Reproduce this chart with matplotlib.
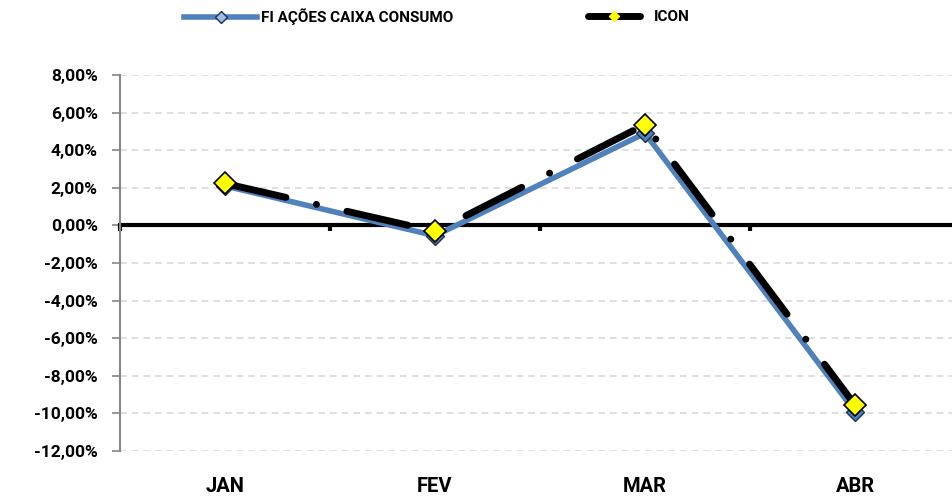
import matplotlib.pyplot as plt
from matplotlib.lines import Line2D
from matplotlib.ticker import FuncFormatter, MultipleLocator

meses = ['JAN', 'FEV', 'MAR', 'ABR']
fi_caixa = [2.10, -0.55, 4.90, -9.90]
icon = [2.23, -0.32, 5.36, -9.55]
nomes = ['FI AÇÕES CAIXA CONSUMO', 'ICON']

plt.rcParams['font.family'] = ['Roboto', 'DejaVu Sans']
plt.rcParams['font.weight'] = 'bold'

AZUL = '#4F81BD'
estilo_icon = dict(color='black', linewidth=5, dashes=(9, 4.5, 0.01, 4.5), dash_capstyle='round')

fig = plt.figure(figsize=(9.52, 4.97), dpi=100)
ax = fig.add_axes([120 / 952, 1 - 451 / 497, 840 / 952, 376 / 497])

x = list(range(len(meses)))

# grade tracejada
ax.yaxis.set_major_locator(MultipleLocator(2))
ax.grid(axis='y', color='#d9d9d9', linestyle=(0, (4, 3)), linewidth=1.2)
ax.set_axisbelow(True)

ax.plot(x, fi_caixa, color=AZUL, linewidth=4, zorder=3,
        marker='D', markersize=9, markerfacecolor=AZUL, markeredgecolor='#1F3050',
        markeredgewidth=1)
ax.plot(x, icon, zorder=4, **estilo_icon)
ax.plot(x, icon, linestyle='none', marker='D', markersize=11,
        markerfacecolor='#FFFF00', markeredgecolor='black', markeredgewidth=1.2, zorder=5)

ax.set_xlim(-0.5, len(meses) - 0.5)
ax.set_ylim(-12, 8)

# eixo x na linha do zero
for lado in ['top', 'right']:
    ax.spines[lado].set_visible(False)
ax.spines['bottom'].set_position(('data', 0))
ax.spines['bottom'].set_linewidth(3)
ax.spines['bottom'].set_color('black')
ax.spines['bottom'].set_zorder(2)
ax.set_xticks([i - 0.5 for i in x])
ax.set_xticklabels([])
ax.tick_params(axis='x', direction='out', length=4, width=3, color='black')

ax.spines['left'].set_color('#868686')
ax.spines['left'].set_linewidth(1.5)
ax.tick_params(axis='y', direction='out', length=6, width=1.2, color='#868686',
               labelsize=12.5, pad=10)
ax.yaxis.set_major_formatter(FuncFormatter(lambda v, p: ('%.2f%%' % v).replace('.', ',')))
for t in ax.get_yticklabels():
    t.set_fontweight('bold')

rotulos = ax.secondary_xaxis(-0.02)
rotulos.set_xticks(x)
rotulos.set_xticklabels(meses, fontweight='bold', fontsize=14.5)
rotulos.tick_params(length=0, pad=13)
rotulos.spines['bottom'].set_visible(False)

# legenda
h_fi = Line2D([], [], color=AZUL, linewidth=4, marker='D', markersize=6,
              markerfacecolor='#9DB9DE', markeredgecolor='#1F3050', markeredgewidth=1)
h_icon = Line2D([], [], color='black', linewidth=5, marker='D', markersize=5,
                markerfacecolor='#FFFF00', markeredgecolor='#FFFF00', solid_capstyle='round')
fig.legend([h_fi], [nomes[0]], loc='center left', bbox_to_anchor=(184 / 952, 1 - 17 / 497),
           frameon=False, handlelength=4.8, handletextpad=0.25, borderaxespad=0,
           borderpad=0, prop={'weight': 'bold', 'size': 11})
fig.legend([h_icon], [nomes[1]], loc='center left', bbox_to_anchor=(588 / 952, 1 - 17 / 497),
           frameon=False, handlelength=3.4, handletextpad=0.9, borderaxespad=0,
           borderpad=0, prop={'weight': 'bold', 'size': 11})

fig.savefig('out.png', dpi=100)
